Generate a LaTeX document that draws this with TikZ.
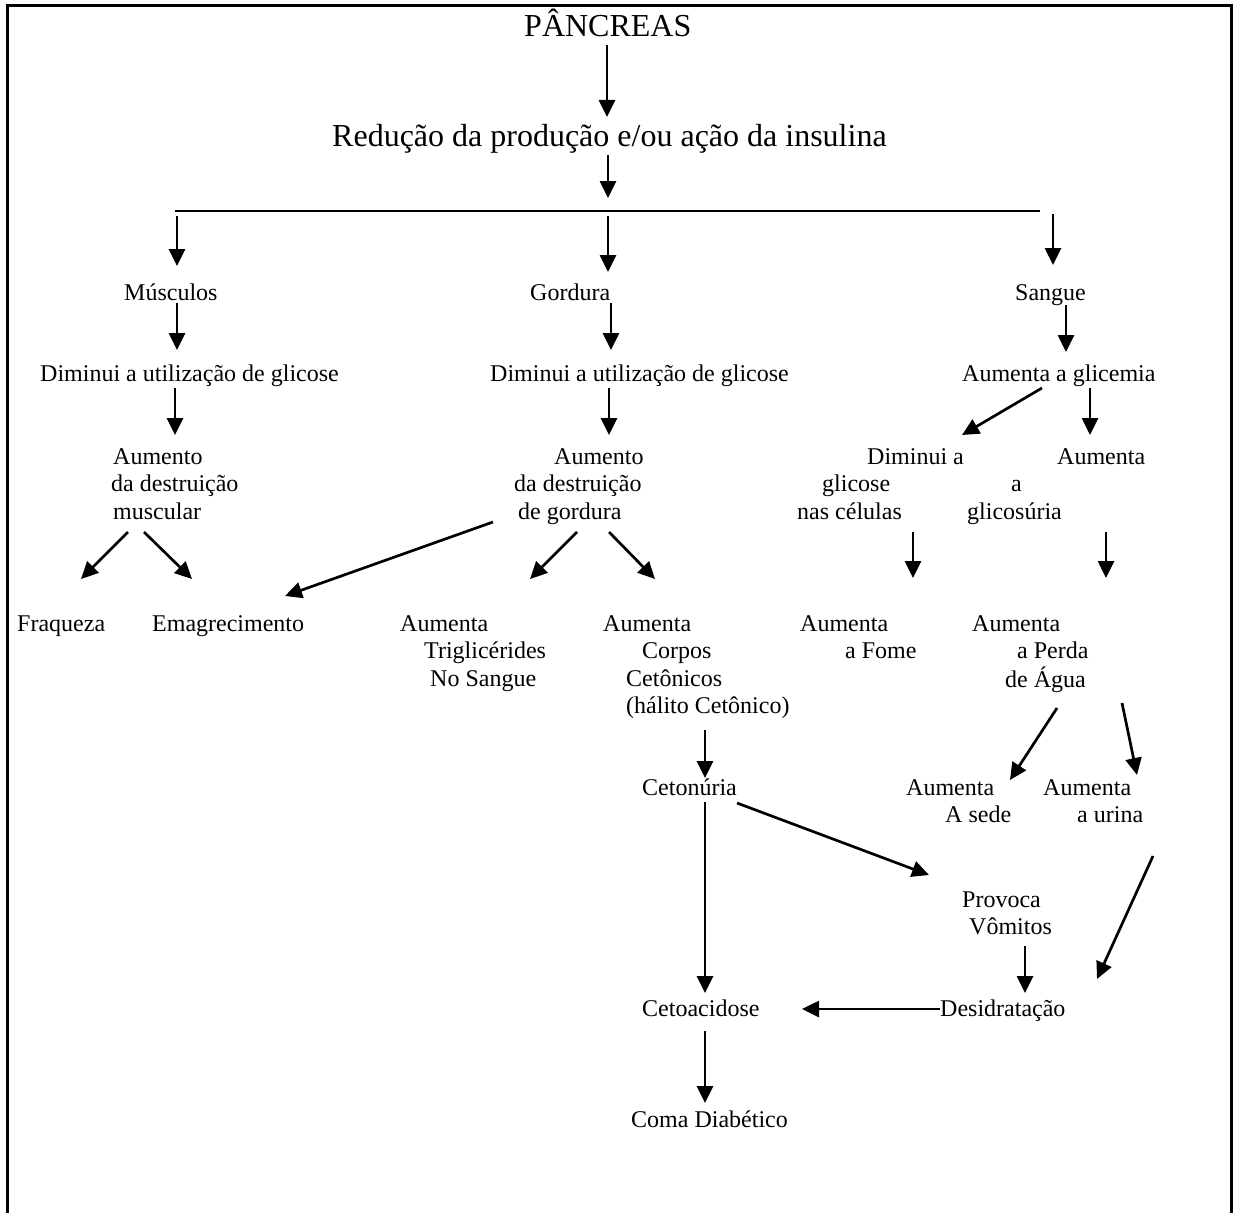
\documentclass[tikz,border=0pt]{standalone}
\usepackage{fontspec}
\setmainfont{Liberation Serif}
\usetikzlibrary{arrows.meta,calc}
\tikzset{
  txt/.style={anchor=base west, inner sep=0pt, font=\fontsize{24pt}{27.6pt}\selectfont},
  big/.style={anchor=base west, inner sep=0pt, font=\fontsize{32pt}{36.8pt}\selectfont},
  arr/.style={line width=2.7pt, -{Triangle[width=16pt,length=17pt]}},
  frame/.style={line width=3pt},
  bar/.style={line width=1.4pt}
}
\newcommand{\blk}[1]{\begin{tabular}[t]{@{}l@{}}#1\end{tabular}}
\begin{document}
\begin{tikzpicture}[x=1pt,y=-1pt]
\useasboundingbox (0,0) rectangle (1238,1212);
\fill[white] (0,0) rectangle (1238,1212);
\draw[frame] (7,1220) -- (7,6) -- (1231,6) -- (1231,1220);

% nodes
\node[big] (pancreas) at (524,37) {PÂNCREAS};
\node[big] (reducao) at (332,146) {Redução da produção e/ou ação da insulina};
\coordinate (barL) at (175,211);
\coordinate (barR) at (1040,211);
\draw[bar] (barL) -- (barR);

\node[txt] (musc) at (124,300) {Músculos};
\node[txt] (gord) at (530,300) {Gordura};
\node[txt] (sangue) at (1015,300) {Sangue};

\node[txt] (dim1) at (40,381) {Diminui a utilização de glicose};
\node[txt] (dim2) at (490,381) {Diminui a utilização de glicose};
\node[txt] (glic) at (962,381) {Aumenta a glicemia};

\node[txt] (aum1) at (111,464) {\blk{\hspace*{2pt}Aumento\\da destruição\\\hspace*{2pt}muscular}};
\node[txt] (aum2) at (514,464) {\blk{\hspace*{40pt}Aumento\\da destruição\\\hspace*{4pt}de gordura}};
\node[txt] (dimg) at (797,464) {\blk{\hspace*{70pt}Diminui a\\\hspace*{25pt}glicose\\nas células}};
\node[txt] (aumg) at (967,464) {\blk{\hspace*{90pt}Aumenta\\\hspace*{44pt}a\\glicosúria}};

\node[txt] (fraq) at (17,631) {Fraqueza};
\node[txt] (emag) at (152,631) {Emagrecimento};
\node[txt] (trig) at (400,631) {\blk{Aumenta\\\hspace*{24pt}Triglicérides\\\hspace*{30pt}No Sangue}};
\node[txt] (corp) at (603,631) {\blk{Aumenta\\\hspace*{39pt}Corpos\\\hspace*{23pt}Cetônicos\\\hspace*{23pt}(hálito Cetônico)}};
\node[txt] (fome) at (800,631) {\blk{Aumenta\\\hspace*{45pt}a Fome}};
\node[txt] (perda) at (972,631) {\blk{Aumenta\\\hspace*{45pt}a Perda\\\hspace*{33pt}de Água}};

\node[txt] (ceton) at (642,795) {Cetonúria};
\node[txt] (sede) at (906,795) {\blk{Aumenta\\\hspace*{39pt}A sede}};
\node[txt] (urina) at (1043,795) {\blk{Aumenta\\\hspace*{34pt}a urina}};
\node[txt] (provoca) at (962,907) {\blk{Provoca\\\hspace*{7pt}Vômitos}};
\node[txt] (desid) at (940,1016) {Desidratação};
\node[txt] (cetoa) at (642,1016) {Cetoacidose};
\node[txt] (coma) at (631,1127) {Coma Diabético};

% connectors
\draw[arr] ([shift={(83,8)}]pancreas.base west) -- ([shift={(275,-29)}]reducao.base west);
\draw[arr] ([shift={(276,9)}]reducao.base west) -- ([shift={(433,-13)}]barL);
\draw[arr] ([shift={(2,5)}]barL) -- ([shift={(53,-34)}]musc.base west);
\draw[arr] ([shift={(433,5)}]barL) -- ([shift={(78,-28)}]gord.base west);
\draw[arr] ([shift={(878,3)}]barL) -- ([shift={(38,-35)}]sangue.base west);
\draw[arr] ([shift={(53,3)}]musc.base west) -- ([shift={(137,-31)}]dim1.base west);
\draw[arr] ([shift={(81,3)}]gord.base west) -- ([shift={(121,-31)}]dim2.base west);
\draw[arr] ([shift={(51,5)}]sangue.base west) -- ([shift={(104,-29)}]glic.base west);
\draw[arr] ([shift={(135,7)}]dim1.base west) -- ([shift={(64,-29)}]aum1.base west);
\draw[arr] ([shift={(119,7)}]dim2.base west) -- ([shift={(95,-29)}]aum2.base west);
\draw[arr] ([shift={(80,7)}]glic.base west) -- ([shift={(165,-29)}]dimg.base west);
\draw[arr] ([shift={(128,7)}]glic.base west) -- ([shift={(123,-29)}]aumg.base west);
\draw[arr] ([shift={(17,68)}]aum1.base west) -- ([shift={(64,-52)}]fraq.base west);
\draw[arr] ([shift={(33,68)}]aum1.base west) -- ([shift={(40,-52)}]emag.base west);
\draw[arr] ([shift={(-21,58)}]aum2.base west) -- ([shift={(133,-35)}]emag.base west);
\draw[arr] ([shift={(63,68)}]aum2.base west) -- ([shift={(130,-52)}]trig.base west);
\draw[arr] ([shift={(95,68)}]aum2.base west) -- ([shift={(52,-52)}]corp.base west);
\draw[arr] ([shift={(116,68)}]dimg.base west) -- ([shift={(113,-53)}]fome.base west);
\draw[arr] ([shift={(139,68)}]aumg.base west) -- ([shift={(134,-53)}]perda.base west);
\draw[arr] ([shift={(102,99)}]corp.base west) -- ([shift={(63,-17)}]ceton.base west);
\draw[arr] ([shift={(85,77)}]perda.base west) -- ([shift={(104,-15)}]sede.base west);
\draw[arr] ([shift={(150,72)}]perda.base west) -- ([shift={(94,-20)}]urina.base west);
\draw[arr] ([shift={(63,7)}]ceton.base west) -- ([shift={(63,-23)}]cetoa.base west);
\draw[arr] ([shift={(95,8)}]ceton.base west) -- ([shift={(-33,-32)}]provoca.base west);
\draw[arr] ([shift={(63,39)}]provoca.base west) -- ([shift={(85,-23)}]desid.base west);
\draw[arr] ([shift={(110,61)}]urina.base west) -- ([shift={(157,-37)}]desid.base west);
\draw[arr] ([shift={(0,-7)}]desid.base west) -- ([shift={(160,-7)}]cetoa.base west);
\draw[arr] ([shift={(63,15)}]cetoa.base west) -- ([shift={(74,-24)}]coma.base west);
\end{tikzpicture}
\end{document}
